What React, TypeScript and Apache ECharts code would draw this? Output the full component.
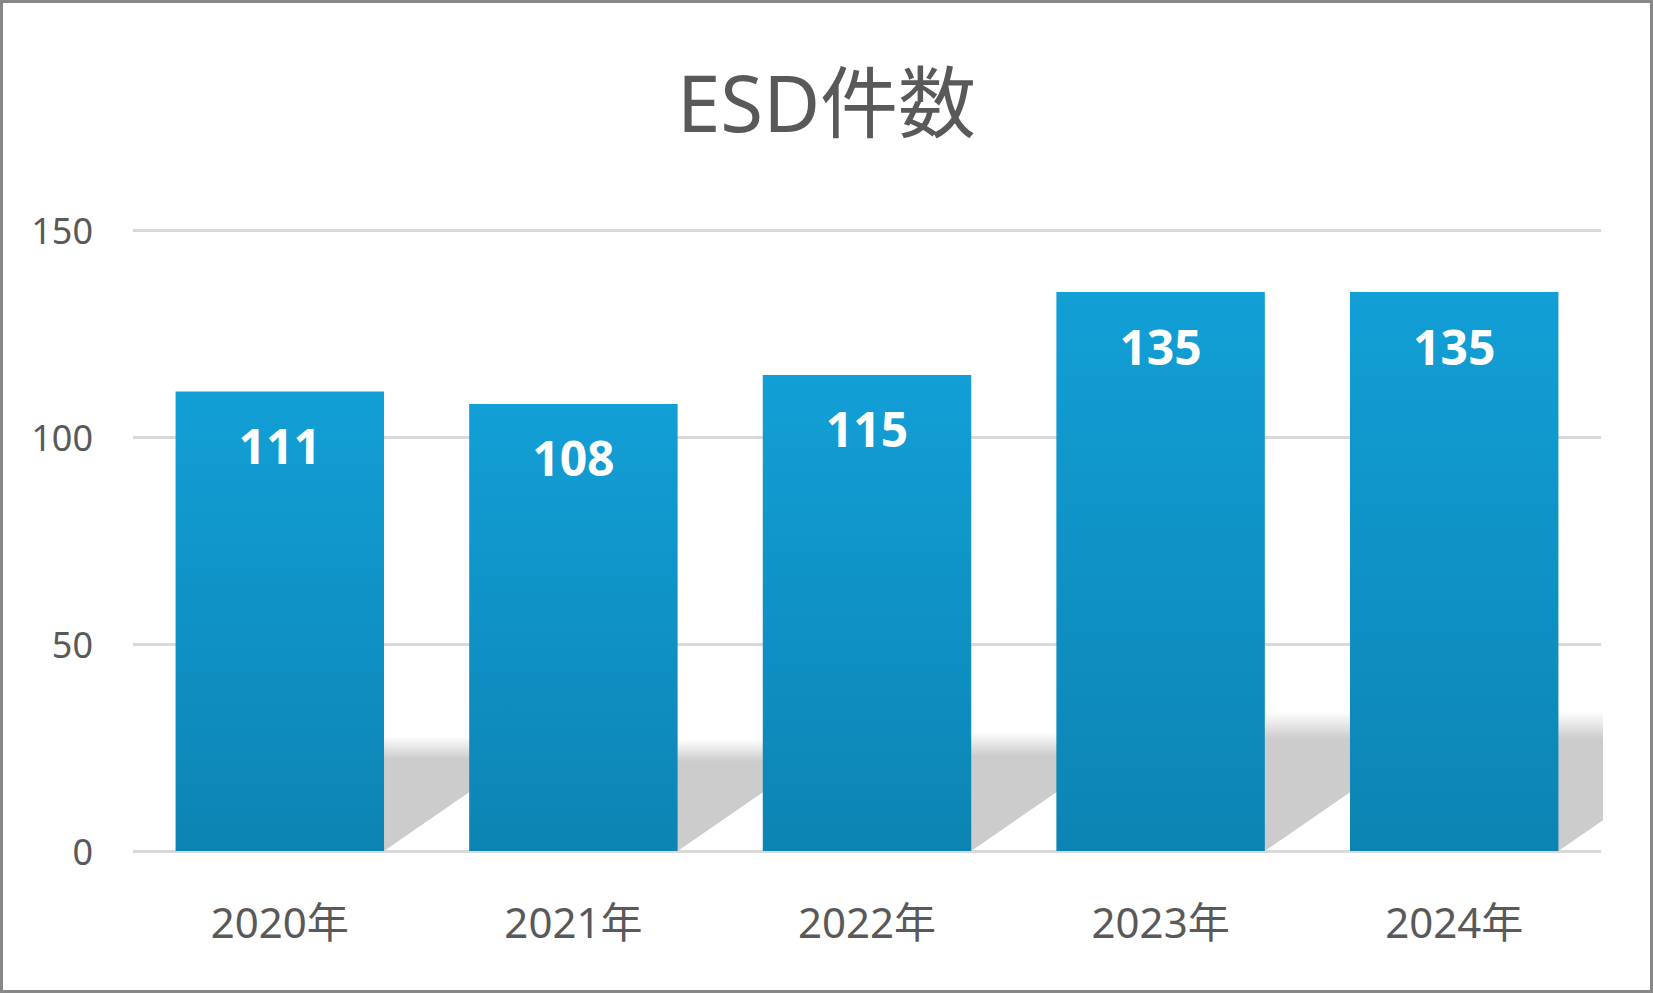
import React, { useEffect, useRef } from "react";
import * as echarts from "echarts";

const TITLE = "ESD件数";
const categories = ["2020年", "2021年", "2022年", "2023年", "2024年"];
const values = [111, 108, 115, 135, 135];
const Y_MIN = 0;
const Y_MAX = 150;
const Y_INTERVAL = 50;

const BAR_RATIO = 0.71;
const SHADOW_RATIO = 0.25;
const SKEW = 1.45;

type Pt = [number, number];

function clipX(pts: Pt[], xmax: number): Pt[] {
  const out: Pt[] = [];
  for (let i = 0; i < pts.length; i++) {
    const a = pts[i];
    const b = pts[(i + 1) % pts.length];
    const aIn = a[0] <= xmax;
    const bIn = b[0] <= xmax;
    if (aIn) out.push(a);
    if (aIn !== bIn) {
      const t = (xmax - a[0]) / (b[0] - a[0]);
      out.push([xmax, a[1] + t * (b[1] - a[1])]);
    }
  }
  return out;
}

export default function App() {
  const ref = useRef<HTMLDivElement>(null);
  useEffect(() => {
    document.body.style.margin = "0";
    const chart = echarts.init(ref.current as HTMLDivElement, null, { renderer: "svg" });
    const font = '"Noto Sans", "Noto Sans CJK JP", sans-serif';
    const text = "#595959";
    chart.setOption({
      animation: false,
      backgroundColor: "#ffffff",
      title: {
        text: TITLE,
        left: "center",
        top: 52,
        textStyle: { fontFamily: font, fontSize: 78, fontWeight: "normal", color: text, lineHeight: 90 },
      },
      grid: { left: 133, right: 52, top: 230, bottom: 142, containLabel: false },
      xAxis: {
        type: "category",
        data: categories,
        axisLine: { show: false },
        axisTick: { show: false },
        axisLabel: { fontFamily: font, fontSize: 42, color: text, margin: 49, lineHeight: 42 },
      },
      yAxis: {
        type: "value",
        min: Y_MIN,
        max: Y_MAX,
        interval: Y_INTERVAL,
        axisLine: { show: false },
        axisTick: { show: false },
        axisLabel: { fontFamily: font, fontSize: 36, color: text, margin: 40 },
        splitLine: { lineStyle: { color: "#d9d9d9", width: 3 } },
      },
      graphic: [
        {
          type: "rect",
          shape: { x: 1.5, y: 1.5, width: 1650, height: 990 },
          style: { fill: "none", stroke: "#878787", lineWidth: 3 },
          z: 100,
        },
      ],
      series: [
        {
          type: "custom",
          z: 1,
          data: values.map((v, i) => [i, v]),
          encode: { x: 0, y: 1 },
          renderItem: (params: any, api: any) => {
            const idx = api.value(0);
            const v = api.value(1);
            const base = api.coord([idx, 0]);
            const top = api.coord([idx, v]);
            const bw = api.size([1, 0])[0] * BAR_RATIO;
            const x0 = base[0] - bw / 2;
            const x1 = base[0] + bw / 2;
            const h = (base[1] - top[1]) * SHADOW_RATIO;
            const sk = h * SKEW;
            const cs = params.coordSys;
            const xmax = cs.x + cs.width + 2;
            const pts = clipX(
              [
                [x0, base[1]],
                [x1, base[1]],
                [x1 + sk, base[1] - h],
                [x0 + sk, base[1] - h],
              ],
              xmax
            );
            return {
              type: "polygon",
              shape: { points: pts },
              style: {
                fill: new echarts.graphic.LinearGradient(0, 0, 0, 1, [
                  { offset: 0, color: "rgba(204,204,204,0)" },
                  { offset: 0.2, color: "rgba(204,204,204,1)" },
                  { offset: 1, color: "rgba(204,204,204,1)" },
                ]),
              },
            };
          },
        },
        {
          type: "bar",
          z: 2,
          data: values,
          barCategoryGap: "29%",
          itemStyle: {
            color: new echarts.graphic.LinearGradient(0, 0, 0, 1, [
              { offset: 0, color: "#129fd6" },
              { offset: 1, color: "#0c84b3" },
            ]),
          },
          label: {
            show: true,
            position: "insideTop",
            distance: 30,
            fontFamily: font,
            fontSize: 48,
            fontWeight: "bold",
            lineHeight: 48,
            color: "#ffffff",
          },
        },
      ],
    });
    return () => chart.dispose();
  }, []);
  return (
    <div
      ref={ref}
      style={{ position: "absolute", left: 0, top: 0, width: 1653, height: 993, background: "#fff" }}
    />
  );
}
